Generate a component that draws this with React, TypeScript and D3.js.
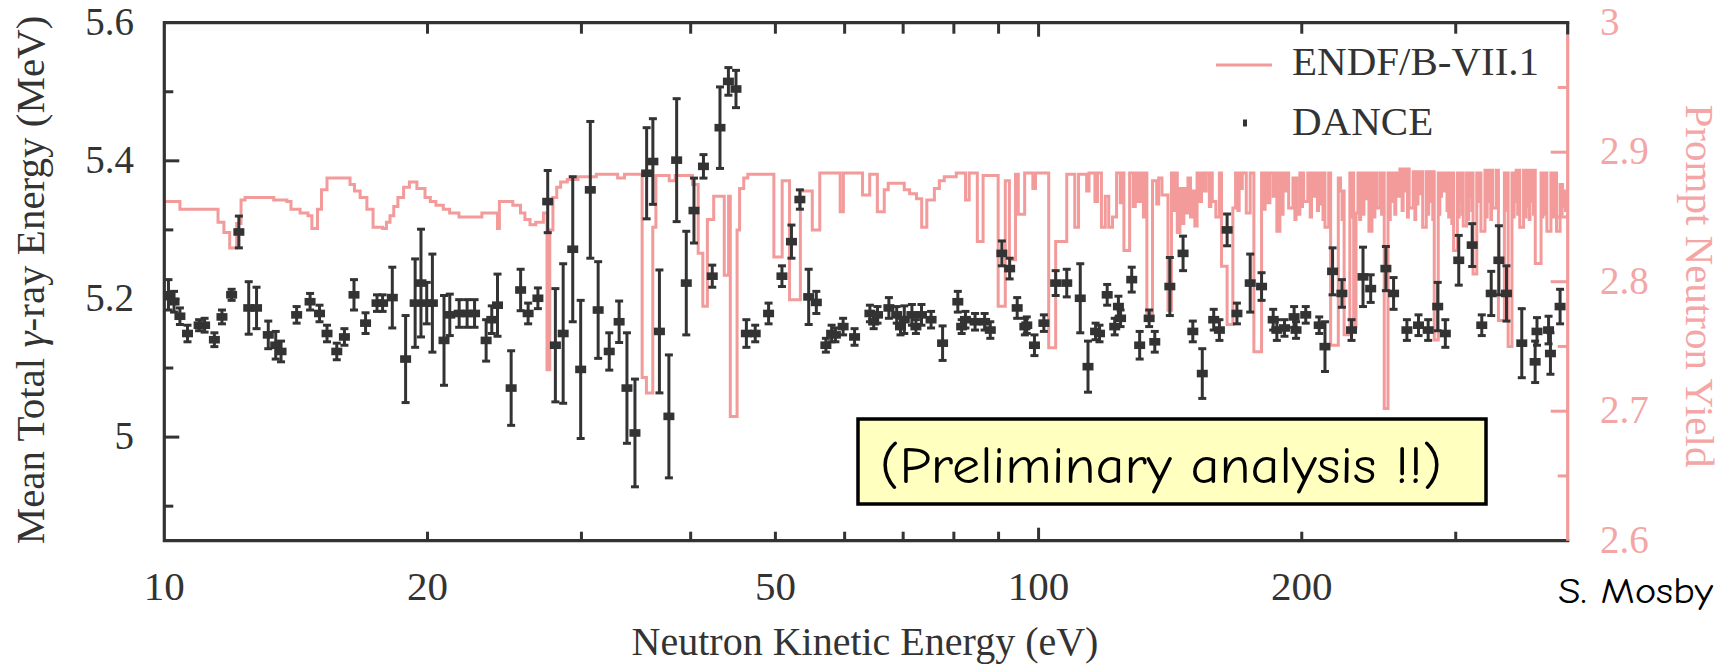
import React from 'react';
import * as d3 from 'd3';

const W = 1724;
const H = 666;
const plotLeft = 164.3;
const plotRight = 1567.7;
const plotTop = 22.7;
const plotBottom = 540.7;

const energyDomain: [number, number] = [10, 402.9];
const meanDomain: [number, number] = [4.85, 5.6];
const yieldDomain: [number, number] = [2.6, 3.0];

const xLabelTicks = [10, 20, 50, 100, 200];
const xMinorTicks = [20, 30, 40, 50, 60, 70, 80, 90, 200, 300];
const xMajorTicks = [100];
const leftMajorTicks = [5.0, 5.2, 5.4];
const leftLabelTicks = [5.0, 5.2, 5.4, 5.6];
const leftLabels = ['5', '5.2', '5.4', '5.6'];
const leftMinorTicks = [4.9, 5.1, 5.3, 5.5];
const rightMajorTicks = [2.7, 2.8, 2.9];
const rightLabelTicks = [2.6, 2.7, 2.8, 2.9, 3.0];
const rightLabels = ['2.6', '2.7', '2.8', '2.9', '3'];
const rightMinorTicks = [2.65, 2.75, 2.85, 2.95];

// ENDF/B-VII.1 prompt neutron yield: [energy eV, nu]
const endfCurve: [number, number][] = [
  [10.0, 2.862], [10.42, 2.856], [11.52, 2.846], [11.7, 2.838], [11.88, 2.826], [12.1, 2.845], [12.24, 2.863], [12.37, 2.865],
  [13.34, 2.863], [13.81, 2.862], [13.96, 2.856], [14.3, 2.853], [14.6, 2.851], [14.75, 2.841], [14.97, 2.856], [15.13, 2.871],
  [15.35, 2.88], [16.05, 2.88], [16.31, 2.875], [16.5, 2.87], [16.75, 2.865], [17.05, 2.856], [17.33, 2.842], [17.77, 2.841],
  [17.95, 2.846], [18.12, 2.851], [18.3, 2.858], [18.5, 2.865], [18.78, 2.873], [19.07, 2.877], [19.45, 2.872], [19.87, 2.865],
  [20.15, 2.862], [20.45, 2.859], [20.85, 2.856], [21.2, 2.853], [21.73, 2.85], [22.96, 2.85], [23.08, 2.853], [23.69, 2.853],
  [24.05, 2.841], [24.17, 2.862], [25.04, 2.859], [25.55, 2.853], [25.85, 2.848], [26.2, 2.844], [26.6, 2.846], [27.14, 2.853],
  [27.4, 2.732], [27.6, 2.84], [27.83, 2.865], [28.11, 2.873], [28.4, 2.877], [28.9, 2.879], [29.73, 2.881], [31.2, 2.883],
  [33.0, 2.88], [33.6, 2.883], [35.2, 2.726], [35.6, 2.714], [36.2, 2.842], [36.5, 2.882], [37.8, 2.878], [38.4, 2.882],
  [40.2, 2.875], [40.8, 2.822], [41.3, 2.781], [41.8, 2.848], [42.5, 2.866], [43.7, 2.805], [44.2, 2.866], [44.4, 2.696],
  [45.2, 2.84], [45.5, 2.872], [46.0, 2.88], [46.5, 2.883], [49.8, 2.819], [50.9, 2.878], [51.9, 2.786], [53.4, 2.87],
  [55.1, 2.84], [56.2, 2.884], [59.3, 2.854], [59.8, 2.884], [62.9, 2.867], [64.1, 2.883], [65.4, 2.854], [66.6, 2.871],
  [67.3, 2.876], [70.2, 2.871], [71.2, 2.868], [72.5, 2.864], [73.5, 2.842], [74.5, 2.863], [76.0, 2.872], [77.0, 2.878],
  [78.0, 2.881], [80.5, 2.884], [82.5, 2.863], [83.3, 2.884], [85.1, 2.831], [86.4, 2.882], [89.9, 2.781], [91.6, 2.878],
  [92.6, 2.817], [94.1, 2.883], [94.8, 2.852], [96.4, 2.884], [98.5, 2.872], [99.2, 2.884], [102.7, 2.749], [104.6, 2.831],
  [107.7, 2.883], [110.0, 2.842], [111.1, 2.883], [113.5, 2.87], [114.2, 2.884], [116.0, 2.862], [116.8, 2.884], [118.0, 2.842],
  [119.2, 2.866], [120.3, 2.842], [121.5, 2.85], [122.8, 2.884], [124.0, 2.861], [124.6, 2.884], [125.2, 2.824], [127.1, 2.884],
  [128.3, 2.858], [129.0, 2.884], [130.0, 2.862], [131.0, 2.884], [131.8, 2.85], [132.4, 2.884], [133.0, 2.776], [135.0, 2.878],
  [136.5, 2.86], [137.2, 2.88], [138.4, 2.867], [140.6, 2.778], [141.9, 2.884], [142.8, 2.855], [143.4, 2.884], [144.1, 2.838],
  [145.1, 2.872], [146.0, 2.845], [146.6, 2.872], [147.1, 2.853], [148.2, 2.88], [149.2, 2.85], [149.9, 2.87], [150.9, 2.843],
  [151.8, 2.884], [153.0, 2.862], [153.6, 2.884], [154.5, 2.87], [155.5, 2.884], [156.8, 2.858], [157.4, 2.884], [158.0, 2.862],
  [159.5, 2.85], [161.0, 2.884], [161.9, 2.812], [164.3, 2.767], [166.8, 2.857], [168.0, 2.884], [169.0, 2.855], [169.6, 2.884],
  [170.0, 2.872], [171.0, 2.884], [172.8, 2.853], [174.6, 2.884], [176.3, 2.746], [179.9, 2.884], [180.9, 2.856], [181.6, 2.884],
  [182.7, 2.861], [183.9, 2.884], [185.5, 2.866], [186.3, 2.884], [187.3, 2.839], [188.8, 2.884], [189.8, 2.852], [190.4, 2.884],
  [191.0, 2.87], [192.0, 2.884], [193.2, 2.857], [195.4, 2.88], [196.4, 2.848], [197.0, 2.88], [197.4, 2.852], [199.0, 2.884],
  [199.8, 2.858], [200.4, 2.884], [201.0, 2.862], [203.2, 2.884], [204.5, 2.85], [205.2, 2.884], [206.5, 2.866], [207.5, 2.884],
  [208.4, 2.855], [209.0, 2.884], [209.5, 2.86], [210.5, 2.884], [211.5, 2.848], [212.0, 2.884], [212.6, 2.842], [214.7, 2.884],
  [215.8, 2.751], [220.2, 2.88], [221.5, 2.87], [222.4, 2.848], [223.0, 2.87], [223.6, 2.759], [227.0, 2.884], [228.2, 2.85],
  [228.8, 2.884], [229.3, 2.765], [230.7, 2.853], [231.9, 2.884], [232.9, 2.848], [233.5, 2.884], [234.0, 2.852], [235.6, 2.884],
  [236.8, 2.864], [237.6, 2.884], [238.7, 2.839], [240.6, 2.884], [241.8, 2.85], [242.5, 2.884], [243.6, 2.857], [245.7, 2.884],
  [246.8, 2.852], [247.5, 2.884], [248.5, 2.702], [251.0, 2.884], [252.0, 2.848], [252.5, 2.884], [253.0, 2.862], [254.3, 2.884],
  [255.5, 2.852], [256.2, 2.884], [257.5, 2.866], [259.0, 2.887], [260.5, 2.855], [261.2, 2.887], [262.0, 2.87], [263.0, 2.887],
  [264.2, 2.85], [264.8, 2.887], [265.4, 2.857], [268.2, 2.885], [269.4, 2.848], [270.0, 2.885], [270.5, 2.86], [271.6, 2.885],
  [273.0, 2.868], [273.8, 2.885], [275.0, 2.842], [277.6, 2.885], [278.8, 2.852], [279.4, 2.885], [280.0, 2.862], [281.2, 2.885],
  [282.4, 2.848], [283.0, 2.885], [283.5, 2.755], [286.5, 2.884], [287.3, 2.852], [287.7, 2.884], [288.0, 2.866], [289.0, 2.884],
  [290.5, 2.87], [292.0, 2.884], [293.2, 2.855], [293.8, 2.884], [294.5, 2.85], [295.8, 2.884], [296.9, 2.845], [297.6, 2.884],
  [298.3, 2.824], [301.3, 2.884], [302.2, 2.85], [302.7, 2.884], [303.0, 2.862], [304.2, 2.884], [305.2, 2.852], [305.6, 2.884],
  [306.0, 2.843], [308.7, 2.884], [309.8, 2.848], [310.4, 2.884], [311.0, 2.866], [312.0, 2.884], [313.0, 2.855], [313.5, 2.884],
  [314.0, 2.806], [317.1, 2.884], [318.5, 2.862], [319.5, 2.884], [320.6, 2.839], [324.0, 2.886], [325.2, 2.85], [325.9, 2.886],
  [326.5, 2.862], [327.8, 2.886], [329.0, 2.848], [329.7, 2.886], [330.5, 2.857], [333.7, 2.886], [335.7, 2.77], [341.0, 2.884],
  [342.3, 2.855], [343.0, 2.884], [344.4, 2.75], [347.9, 2.884], [349.2, 2.85], [349.9, 2.884], [350.5, 2.862], [351.8, 2.886],
  [353.2, 2.852], [354.0, 2.886], [355.1, 2.842], [358.7, 2.886], [360.2, 2.85], [360.9, 2.886], [361.5, 2.858], [362.8, 2.886],
  [364.0, 2.848], [364.8, 2.886], [365.5, 2.862], [366.8, 2.886], [368.2, 2.852], [369.0, 2.886], [369.9, 2.814], [375.6, 2.884],
  [376.8, 2.85], [377.4, 2.884], [378.0, 2.862], [379.2, 2.884], [380.3, 2.852], [380.9, 2.884], [381.4, 2.839], [385.5, 2.884],
  [386.7, 2.85], [387.4, 2.884], [388.0, 2.86], [389.2, 2.884], [390.2, 2.85], [390.7, 2.884], [391.2, 2.839], [394.9, 2.875],
  [396.3, 2.852], [397.0, 2.875], [397.5, 2.858], [398.8, 2.87], [400.5, 2.855], [401.3, 2.87], [402.9, 2.87],
];

// DANCE mean total gamma-ray energy: [energy eV, MeV, error]
const dancePoints: [number, number, number][] = [
  [10.11, 5.206, 0.022], [10.26, 5.196, 0.015], [10.42, 5.175, 0.012], [10.63, 5.15, 0.012], [10.96, 5.162, 0.008],
  [11.12, 5.162, 0.01], [11.41, 5.141, 0.01], [11.64, 5.174, 0.01], [11.94, 5.206, 0.008], [12.17, 5.297, 0.023],
  [12.49, 5.187, 0.038], [12.75, 5.187, 0.03], [13.15, 5.148, 0.02], [13.41, 5.133, 0.02], [13.6, 5.124, 0.015],
  [14.17, 5.177, 0.012], [14.68, 5.196, 0.012], [15.05, 5.179, 0.012], [15.35, 5.15, 0.012], [15.75, 5.124, 0.012],
  [16.07, 5.145, 0.012], [16.48, 5.206, 0.022], [16.99, 5.165, 0.015], [17.51, 5.194, 0.012], [17.77, 5.194, 0.012],
  [18.23, 5.202, 0.044], [18.88, 5.113, 0.063], [19.36, 5.194, 0.064], [19.66, 5.223, 0.078], [19.96, 5.194, 0.03],
  [20.26, 5.194, 0.071], [20.89, 5.14, 0.065], [21.21, 5.177, 0.03], [21.74, 5.179, 0.02], [22.2, 5.179, 0.02],
  [22.64, 5.179, 0.02], [23.34, 5.14, 0.03], [23.69, 5.17, 0.02], [24.05, 5.191, 0.045], [24.93, 5.071, 0.054],
  [25.56, 5.213, 0.03], [26.07, 5.179, 0.015], [26.75, 5.201, 0.015], [27.45, 5.341, 0.045], [28.01, 5.133, 0.082],
  [28.59, 5.15, 0.101], [29.32, 5.272, 0.105], [29.94, 5.098, 0.1], [30.71, 5.358, 0.099], [31.35, 5.184, 0.07],
  [32.28, 5.124, 0.027], [33.13, 5.167, 0.03], [33.82, 5.071, 0.08], [34.54, 5.006, 0.078], [35.62, 5.382, 0.066],
  [36.21, 5.399, 0.062], [36.84, 5.153, 0.089], [37.77, 5.03, 0.089], [38.55, 5.401, 0.089], [39.54, 5.223, 0.075],
  [40.35, 5.328, 0.047], [41.37, 5.392, 0.017], [42.34, 5.233, 0.016], [43.21, 5.448, 0.059], [44.18, 5.515, 0.02],
  [45.07, 5.504, 0.027], [46.32, 5.15, 0.02], [47.41, 5.15, 0.012], [49.11, 5.179, 0.015], [50.87, 5.233, 0.015],
  [52.16, 5.283, 0.024], [53.33, 5.344, 0.014], [54.58, 5.203, 0.04], [55.69, 5.195, 0.016], [57.11, 5.133, 0.01],
  [57.98, 5.15, 0.012], [58.56, 5.148, 0.01], [59.76, 5.16, 0.012], [61.59, 5.145, 0.012], [64.13, 5.179, 0.012],
  [64.77, 5.167, 0.01], [65.43, 5.177, 0.012], [67.42, 5.187, 0.015], [68.82, 5.177, 0.012], [69.51, 5.16, 0.012],
  [70.21, 5.17, 0.02], [71.63, 5.177, 0.015], [72.39, 5.16, 0.01], [73.46, 5.177, 0.015], [75.34, 5.17, 0.012],
  [77.66, 5.136, 0.025], [80.84, 5.196, 0.015], [81.66, 5.16, 0.01], [82.48, 5.17, 0.012], [84.59, 5.167, 0.012],
  [86.75, 5.167, 0.012], [88.06, 5.155, 0.012], [90.78, 5.266, 0.018], [92.66, 5.244, 0.015], [94.52, 5.187, 0.015],
  [96.45, 5.16, 0.012], [96.94, 5.162, 0.012], [98.92, 5.133, 0.015], [101.4, 5.165, 0.012], [104.6, 5.223, 0.018],
  [107.7, 5.223, 0.02], [111.6, 5.201, 0.05], [113.9, 5.102, 0.037], [116.2, 5.153, 0.012], [117.4, 5.15, 0.012],
  [119.8, 5.206, 0.015], [122.2, 5.16, 0.012], [123.4, 5.189, 0.015], [124.1, 5.172, 0.012], [127.8, 5.228, 0.018],
  [130.5, 5.133, 0.02], [133.8, 5.172, 0.012], [135.8, 5.138, 0.015], [141.3, 5.218, 0.042], [146.3, 5.266, 0.025],
  [150.1, 5.153, 0.015], [153.9, 5.092, 0.036], [158.6, 5.17, 0.015], [161.0, 5.155, 0.015], [164.3, 5.3, 0.023],
  [168.6, 5.179, 0.015], [174.6, 5.223, 0.042], [179.9, 5.218, 0.02], [185.5, 5.17, 0.015], [187.3, 5.155, 0.015],
  [191.1, 5.158, 0.012], [196.0, 5.174, 0.015], [197.0, 5.155, 0.012], [202.1, 5.177, 0.012], [209.4, 5.162, 0.012],
  [212.6, 5.131, 0.036], [216.9, 5.24, 0.034], [222.3, 5.208, 0.02], [228.0, 5.155, 0.015], [235.0, 5.232, 0.043],
  [239.8, 5.215, 0.02], [249.6, 5.244, 0.032], [254.7, 5.208, 0.023], [263.8, 5.155, 0.015], [272.0, 5.162, 0.015],
  [279.0, 5.155, 0.015], [286.1, 5.189, 0.035], [291.9, 5.15, 0.02], [302.4, 5.256, 0.036], [313.3, 5.278, 0.031],
  [321.3, 5.162, 0.015], [329.4, 5.208, 0.032], [336.1, 5.256, 0.05], [342.9, 5.208, 0.04], [357.0, 5.136, 0.05],
  [369.8, 5.109, 0.03], [371.6, 5.153, 0.02], [383.1, 5.155, 0.02], [385.0, 5.121, 0.03], [394.9, 5.189, 0.025],
];

const DARK = '#333333';
const PINK = '#f39a9a';
const PINK_TEXT = '#f4a6a6';
const SERIF = "'Liberation Serif', 'Times New Roman', serif";
const HAND = "'Comic Sans MS', 'Comic Neue', Lato, 'Noto Sans', sans-serif";

export default function App() {
  const x = d3.scaleLog().domain(energyDomain).range([plotLeft, plotRight]);
  const yL = d3.scaleLinear().domain(meanDomain).range([plotBottom, plotTop]);
  const yR = d3.scaleLinear().domain(yieldDomain).range([plotBottom, plotTop]);

  const endfPath = d3
    .line<[number, number]>()
    .x((d) => x(d[0]))
    .y((d) => yR(d[1]))
    .curve(d3.curveStepAfter)(endfCurve) as string;

  const capW = 4;
  const markW = 5.5;
  const markH = 3.8;

  return (
    <svg
      width={W}
      height={H}
      viewBox={`0 0 ${W} ${H}`}
      style={{ position: 'absolute', left: 0, top: 0, background: '#fff' }}
    >
      <rect x={0} y={0} width={W} height={H} fill="#fff" />

      {/* ENDF curve */}
      <path d={endfPath} fill="none" stroke={PINK} strokeWidth={3} strokeLinejoin="miter" />

      {/* frame */}
      <path
        d={`M${plotRight},${plotTop}H${plotLeft}V${plotBottom}H${plotRight}`}
        fill="none"
        stroke={DARK}
        strokeWidth={3.2}
        strokeLinecap="square"
      />
      <line x1={plotRight} x2={plotRight} y1={plotTop} y2={plotTop + 12} stroke={DARK} strokeWidth={3.2} />
      <line x1={plotRight} x2={plotRight} y1={plotTop + 12} y2={plotBottom} stroke={PINK} strokeWidth={3.2} />

      {/* x ticks */}
      {xMinorTicks.map((t) => (
        <g key={'xm' + t}>
          <line x1={x(t)} x2={x(t)} y1={plotBottom} y2={plotBottom - 9} stroke={DARK} strokeWidth={3} />
          <line x1={x(t)} x2={x(t)} y1={plotTop} y2={plotTop + 11} stroke={DARK} strokeWidth={3} />
        </g>
      ))}
      {xMajorTicks.map((t) => (
        <g key={'xM' + t}>
          <line x1={x(t)} x2={x(t)} y1={plotBottom} y2={plotBottom - 13} stroke={DARK} strokeWidth={3} />
          <line x1={x(t)} x2={x(t)} y1={plotTop} y2={plotTop + 14} stroke={DARK} strokeWidth={3} />
        </g>
      ))}
      {xLabelTicks.map((t) => (
        <text key={'xl' + t} x={x(t)} y={600} textAnchor="middle" fontFamily={SERIF} fontSize={41} fill={DARK}>
          {String(t)}
        </text>
      ))}

      {/* left ticks */}
      {leftMajorTicks.map((t) => (
        <line key={'lM' + t} x1={plotLeft} x2={plotLeft + 15} y1={yL(t)} y2={yL(t)} stroke={DARK} strokeWidth={3} />
      ))}
      {leftMinorTicks.map((t) => (
        <line key={'lm' + t} x1={plotLeft} x2={plotLeft + 9} y1={yL(t)} y2={yL(t)} stroke={DARK} strokeWidth={3} />
      ))}
      {leftLabelTicks.map((t, i) => (
        <text key={'ll' + t} x={134} y={yL(t) + 12} textAnchor="end" fontFamily={SERIF} fontSize={39} fill={DARK}>
          {leftLabels[i]}
        </text>
      ))}

      {/* right ticks */}
      {rightMajorTicks.map((t) => (
        <line key={'rM' + t} x1={plotRight} x2={plotRight - 17} y1={yR(t)} y2={yR(t)} stroke={PINK} strokeWidth={3} />
      ))}
      {rightMinorTicks.map((t) => (
        <line key={'rm' + t} x1={plotRight} x2={plotRight - 10} y1={yR(t)} y2={yR(t)} stroke={PINK} strokeWidth={3} />
      ))}
      {rightLabelTicks.map((t, i) => (
        <text key={'rl' + t} x={1600} y={yR(t) + 12} textAnchor="start" fontFamily={SERIF} fontSize={39} fill={PINK_TEXT}>
          {rightLabels[i]}
        </text>
      ))}

      {/* DANCE points */}
      {dancePoints.map((p, i) => {
        const cx = x(p[0]);
        const cy = yL(p[1]);
        const y1 = yL(p[1] + p[2]);
        const y2 = yL(p[1] - p[2]);
        return (
          <g key={'d' + i}>
            <line x1={cx} x2={cx} y1={y1} y2={y2} stroke={DARK} strokeWidth={3} />
            <line x1={cx - capW} x2={cx + capW} y1={y1} y2={y1} stroke={DARK} strokeWidth={3} />
            <line x1={cx - capW} x2={cx + capW} y1={y2} y2={y2} stroke={DARK} strokeWidth={3} />
            <rect x={cx - markW} y={cy - markH} width={markW * 2} height={markH * 2} fill={DARK} />
          </g>
        );
      })}

      {/* legend */}
      <line x1={1216} x2={1272} y1={65} y2={65} stroke={PINK} strokeWidth={3} />
      <text x={1292} y={75} fontFamily={SERIF} fontSize={41} fill={DARK}>ENDF/B-VII.1</text>
      <rect x={1243} y={119.5} width={4} height={7} fill={DARK} />
      <text x={1292} y={135} fontFamily={SERIF} fontSize={41} fill={DARK}>DANCE</text>

      {/* axis titles */}
      <text
        transform="translate(44,280) rotate(-90)"
        textAnchor="middle"
        fontFamily={SERIF}
        fontSize={41}
        fill={DARK}
      >
        Mean Total <tspan fontStyle="italic">γ</tspan>-ray Energy (MeV)
      </text>
      <text x={865} y={655} textAnchor="middle" fontFamily={SERIF} fontSize={40} fill={DARK}>
        Neutron Kinetic Energy (eV)
      </text>
      <text
        transform="translate(1686,286) rotate(90)"
        textAnchor="middle"
        fontFamily={SERIF}
        fontSize={41}
        fill={PINK_TEXT}
      >
        Prompt Neutron Yield
      </text>

      {/* annotation box */}
      <rect x={858} y={419} width={628} height={85} fill="#ffffc0" stroke="#000" strokeWidth={3.5} />
      <text
        x={880}
        y={483}
        fontFamily={HAND}
        fontSize={52}
        fill="#000"
        textLength={562}
        lengthAdjust="spacingAndGlyphs"
      >
        (Preliminary analysis !!)
      </text>
      <text
        x={1558}
        y={603}
        fontFamily={HAND}
        fontSize={36}
        fill="#000"
        textLength={155}
        lengthAdjust="spacingAndGlyphs"
      >
        S. Mosby
      </text>
    </svg>
  );
}
